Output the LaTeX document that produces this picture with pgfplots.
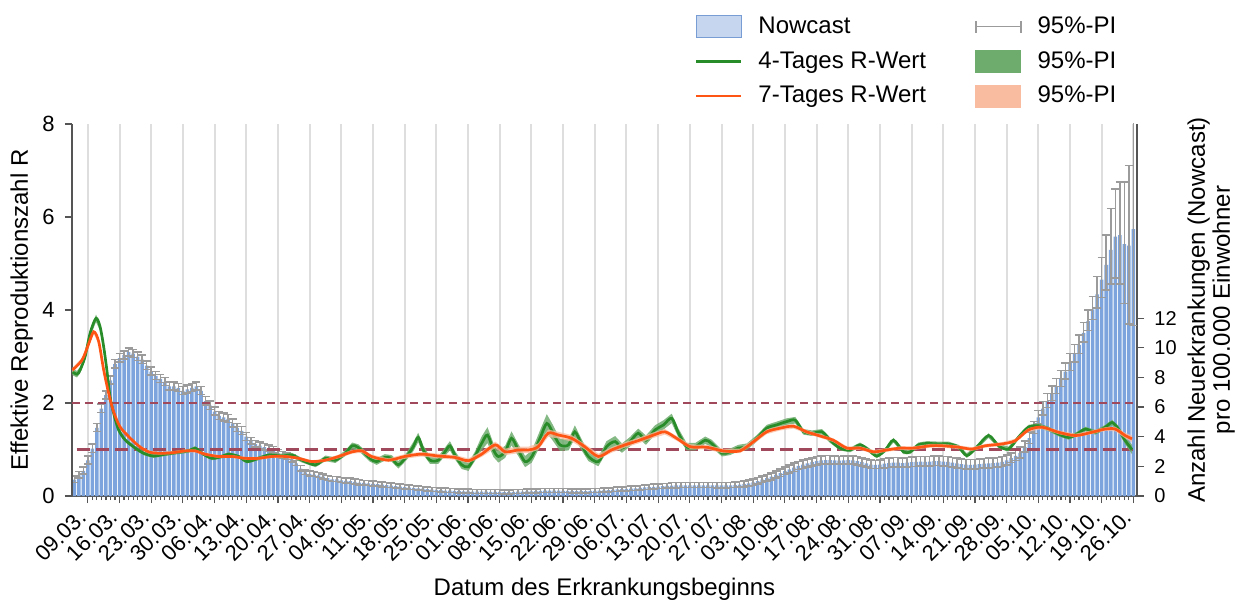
\documentclass[border=0pt]{standalone}
\usepackage{fontspec}
\setmainfont{Liberation Sans}
\usepackage{pgfplots}
\usepackage{pgfplotstable}
\pgfplotsset{compat=1.18}

\definecolor{barfill}{RGB}{126,164,222}
\definecolor{legfill}{RGB}{197,214,238}
\definecolor{legdraw}{RGB}{120,156,212}
\definecolor{errgray}{RGB}{155,155,155}
\definecolor{gline}{RGB}{40,140,40}
\definecolor{gband}{RGB}{110,172,110}
\definecolor{oline}{RGB}{255,85,20}
\definecolor{oband}{RGB}{250,188,160}
\definecolor{refred}{RGB}{160,72,92}
\definecolor{gridc}{RGB}{222,222,222}
\definecolor{axc}{RGB}{85,85,85}

\pgfplotstableread{
d v ep em
-3 1.1 0.25 0.2
-2 1.4 0.25 0.2
-1 1.7 0.25 0.2
0 2.4 0.3 0.25
1 3.2 0.3 0.25
2 4.6 0.3 0.25
3 5.9 0.3 0.25
4 6.8 0.3 0.25
5 7.8 0.3 0.25
6 8.9 0.3 0.25
7 9.3 0.3 0.25
8 9.5 0.3 0.25
9 9.7 0.3 0.25
10 9.6 0.3 0.25
11 9.4 0.3 0.25
12 9.2 0.3 0.25
13 8.8 0.3 0.25
14 8.4 0.3 0.25
15 8.1 0.3 0.25
16 7.9 0.3 0.25
17 7.7 0.3 0.25
18 7.4 0.3 0.25
19 7.4 0.3 0.25
20 7.3 0.3 0.25
21 7.1 0.3 0.25
22 7.2 0.3 0.25
23 7.3 0.3 0.25
24 7.4 0.3 0.25
25 7.1 0.3 0.25
26 6.4 0.3 0.25
27 6.1 0.3 0.25
28 5.7 0.3 0.25
29 5.4 0.3 0.25
30 5.3 0.3 0.25
31 5.2 0.3 0.25
32 4.9 0.3 0.25
33 4.6 0.3 0.25
34 4.4 0.3 0.25
35 4.0 0.3 0.25
36 3.7 0.25 0.2
37 3.5 0.25 0.2
38 3.4 0.25 0.2
39 3.3 0.25 0.2
40 3.2 0.25 0.2
41 3.1 0.25 0.2
42 2.9 0.25 0.2
43 2.75 0.25 0.2
44 2.65 0.25 0.2
45 2.5 0.25 0.2
46 2.2 0.2 0.15
47 1.85 0.2 0.15
48 1.6 0.2 0.15
49 1.5 0.2 0.15
50 1.45 0.2 0.15
51 1.4 0.2 0.15
52 1.3 0.2 0.15
53 1.2 0.2 0.15
54 1.12 0.2 0.15
55 1.12 0.2 0.15
56 1.05 0.2 0.15
57 1.02 0.2 0.15
58 1.0 0.2 0.15
59 0.95 0.2 0.15
60 0.9 0.2 0.15
61 0.88 0.18 0.14
62 0.85 0.18 0.14
63 0.82 0.18 0.14
64 0.8 0.18 0.14
65 0.76 0.18 0.14
66 0.73 0.18 0.14
67 0.7 0.18 0.14
68 0.67 0.18 0.14
69 0.64 0.18 0.14
70 0.6 0.18 0.14
71 0.57 0.16 0.12
72 0.55 0.16 0.12
73 0.52 0.16 0.12
74 0.49 0.16 0.12
75 0.46 0.16 0.12
76 0.43 0.16 0.12
77 0.41 0.16 0.12
78 0.39 0.16 0.12
79 0.37 0.16 0.12
80 0.36 0.16 0.12
81 0.34 0.15 0.12
82 0.33 0.15 0.12
83 0.32 0.15 0.12
84 0.31 0.15 0.12
85 0.3 0.15 0.12
86 0.3 0.15 0.12
87 0.29 0.15 0.12
88 0.29 0.15 0.12
89 0.28 0.15 0.12
90 0.28 0.15 0.12
91 0.28 0.15 0.12
92 0.27 0.15 0.12
93 0.27 0.15 0.12
94 0.28 0.15 0.12
95 0.29 0.15 0.12
96 0.3 0.15 0.12
97 0.31 0.15 0.12
98 0.32 0.15 0.12
99 0.33 0.15 0.12
100 0.35 0.15 0.12
101 0.36 0.15 0.12
102 0.37 0.15 0.12
103 0.37 0.15 0.12
104 0.36 0.15 0.12
105 0.35 0.15 0.12
106 0.34 0.15 0.12
107 0.33 0.15 0.12
108 0.33 0.15 0.12
109 0.33 0.15 0.12
110 0.33 0.15 0.12
111 0.34 0.15 0.12
112 0.35 0.15 0.12
113 0.36 0.15 0.12
114 0.38 0.15 0.12
115 0.4 0.15 0.12
116 0.42 0.16 0.13
117 0.44 0.16 0.13
118 0.46 0.16 0.13
119 0.48 0.16 0.13
120 0.5 0.16 0.13
121 0.52 0.17 0.14
122 0.55 0.17 0.14
123 0.58 0.17 0.14
124 0.6 0.18 0.15
125 0.62 0.18 0.15
126 0.64 0.18 0.15
127 0.66 0.18 0.15
128 0.68 0.18 0.15
129 0.7 0.2 0.16
130 0.71 0.2 0.16
131 0.72 0.2 0.16
132 0.72 0.2 0.16
133 0.72 0.2 0.16
134 0.72 0.2 0.16
135 0.72 0.2 0.16
136 0.72 0.2 0.16
137 0.72 0.2 0.16
138 0.72 0.2 0.16
139 0.71 0.2 0.16
140 0.71 0.2 0.16
141 0.71 0.2 0.16
142 0.72 0.2 0.16
143 0.74 0.2 0.16
144 0.77 0.2 0.16
145 0.8 0.22 0.18
146 0.85 0.22 0.18
147 0.92 0.24 0.2
148 1.0 0.24 0.2
149 1.1 0.25 0.2
150 1.2 0.25 0.2
151 1.3 0.26 0.22
152 1.42 0.26 0.22
153 1.55 0.28 0.24
154 1.68 0.28 0.24
155 1.8 0.3 0.25
156 1.92 0.3 0.25
157 2.03 0.3 0.25
158 2.12 0.3 0.25
159 2.2 0.3 0.25
160 2.28 0.3 0.25
161 2.35 0.3 0.25
162 2.4 0.3 0.25
163 2.42 0.3 0.25
164 2.42 0.3 0.25
165 2.4 0.3 0.25
166 2.38 0.3 0.25
167 2.4 0.3 0.25
168 2.42 0.3 0.25
169 2.4 0.3 0.25
170 2.35 0.3 0.25
171 2.28 0.3 0.25
172 2.2 0.3 0.25
173 2.12 0.3 0.25
174 2.1 0.3 0.25
175 2.12 0.3 0.25
176 2.18 0.35 0.3
177 2.22 0.35 0.3
178 2.25 0.35 0.3
179 2.25 0.35 0.3
180 2.22 0.35 0.3
181 2.25 0.35 0.3
182 2.28 0.35 0.3
183 2.3 0.35 0.3
184 2.32 0.35 0.3
185 2.3 0.35 0.3
186 2.32 0.35 0.3
187 2.35 0.35 0.3
188 2.35 0.35 0.3
189 2.32 0.35 0.3
190 2.3 0.35 0.3
191 2.25 0.35 0.3
192 2.2 0.35 0.3
193 2.15 0.35 0.3
194 2.12 0.35 0.3
195 2.1 0.35 0.3
196 2.12 0.35 0.3
197 2.15 0.35 0.3
198 2.18 0.35 0.3
199 2.2 0.35 0.3
200 2.22 0.35 0.3
201 2.25 0.35 0.3
202 2.3 0.35 0.3
203 2.4 0.35 0.3
204 2.55 0.35 0.3
205 2.7 0.38 0.32
206 2.9 0.4 0.34
207 3.3 0.4 0.34
208 3.9 0.42 0.36
209 4.6 0.44 0.38
210 5.3 0.46 0.4
211 5.9 0.48 0.42
212 6.4 0.5 0.44
213 6.9 0.52 0.46
214 7.4 0.54 0.48
215 7.9 0.56 0.5
216 8.4 0.58 0.52
217 9.0 0.6 0.54
218 9.6 0.62 0.56
219 10.2 0.66 0.58
220 11.0 0.7 0.6
221 11.8 0.75 0.62
222 12.6 0.85 0.7
223 13.6 1.2 0.9
224 14.6 1.5 1.2
225 15.6 2.0 1.7
226 16.6 2.8 2.3
227 17.5 3.2 2.8
228 17.6 3.6 3.3
229 17.0 4.2 4.0
230 16.9 5.4 5.3
231 18.0 8.0 6.5
}\bars

\pgfplotstableread{
d r w
-3.4 2.67 0.07
-2.4 2.62 0.07
-1.7 2.71 0.07
-0.6 3.0 0.07
0.5 3.5 0.08
1.8 3.82 0.08
2.7 3.64 0.08
3.5 3.21 0.07
4.2 2.71 0.07
4.9 2.14 0.06
5.7 1.78 0.05
6.8 1.42 0.05
8.3 1.2 0.04
10.5 1.03 0.04
12.3 0.92 0.04
14.5 0.86 0.04
17.1 0.9 0.04
20 0.94 0.04
22.3 0.97 0.04
23.7 1.03 0.04
25.2 0.92 0.04
27.4 0.81 0.04
29.6 0.85 0.04
31.1 0.9 0.04
33.3 0.85 0.04
35.2 0.74 0.04
37.7 0.81 0.04
40 0.88 0.04
42.9 0.86 0.05
45.1 0.88 0.05
47.3 0.77 0.05
50.3 0.67 0.05
52.5 0.81 0.06
54.7 0.77 0.06
56.9 0.92 0.06
58.4 1.08 0.07
59.8 1.04 0.07
62.3 0.81 0.07
63.8 0.74 0.07
65.6 0.83 0.07
67.1 0.81 0.07
68.6 0.67 0.08
70.4 0.85 0.08
71.9 1.06 0.1
73 1.26 0.1
74.1 0.99 0.1
75.6 0.77 0.08
77.4 0.77 0.08
78.9 0.95 0.09
80 1.08 0.1
81.1 0.88 0.09
82.6 0.67 0.09
84.1 0.63 0.09
85.5 0.85 0.1
87 1.13 0.15
88.3 1.31 0.17
89.6 0.99 0.15
90.7 0.85 0.13
92.2 0.95 0.13
93.6 1.24 0.15
95.1 0.99 0.13
96.6 0.74 0.12
98.1 0.85 0.13
99.9 1.24 0.17
101.4 1.56 0.2
102.8 1.35 0.17
104.3 1.1 0.13
106.2 1.1 0.12
107.6 1.38 0.14
109.1 1.1 0.12
110.6 0.85 0.1
112.8 0.74 0.1
114.6 1.06 0.12
116.5 1.17 0.12
118 1.03 0.1
119.8 1.17 0.1
121.6 1.35 0.1
123.3 1.2 0.1
125.3 1.42 0.1
127.2 1.53 0.1
129 1.67 0.1
130.5 1.35 0.1
132.3 1.06 0.08
134.2 1.06 0.08
136.4 1.2 0.08
137.8 1.13 0.08
140.1 0.92 0.07
141.9 0.95 0.07
143.7 1.03 0.07
145.6 1.06 0.07
147.8 1.24 0.07
150 1.46 0.07
152.2 1.53 0.07
154.4 1.6 0.07
156.3 1.63 0.07
158.1 1.38 0.06
160 1.35 0.06
162.2 1.38 0.06
164 1.2 0.06
166.2 1.03 0.05
168.4 0.99 0.05
170.6 1.1 0.05
172.5 0.99 0.05
174.3 0.86 0.05
176.2 0.99 0.05
178 1.2 0.05
180.2 0.95 0.05
181.7 0.95 0.05
183.5 1.1 0.05
185.4 1.13 0.05
188 1.12 0.05
190.2 1.12 0.05
192.4 1.05 0.05
194.2 0.87 0.05
196.4 1.05 0.05
199 1.3 0.05
201.2 1.08 0.05
203.4 1.01 0.05
205.6 1.26 0.05
207.8 1.48 0.05
210.1 1.51 0.05
212.3 1.44 0.05
214.5 1.33 0.05
216.7 1.26 0.05
218.5 1.33 0.05
220.4 1.44 0.05
222.6 1.37 0.05
224.8 1.48 0.05
226.3 1.58 0.06
227.7 1.44 0.07
229.2 1.19 0.08
230.7 1.0 0.1
}\green

\pgfplotstableread{
d r w
-3.4 2.71 0.05
-1.3 2.92 0.05
0.1 3.25 0.05
1.3 3.53 0.05
2.4 3.32 0.05
3.5 2.71 0.05
4.6 2.21 0.04
5.7 1.81 0.04
7.1 1.49 0.03
9 1.28 0.03
11.2 1.08 0.03
13.4 0.95 0.03
15.6 0.92 0.03
18.6 0.93 0.03
21.5 0.97 0.03
23.7 0.97 0.03
25.9 0.9 0.03
28.9 0.85 0.03
31.8 0.85 0.03
34.8 0.81 0.03
37.7 0.81 0.03
40.7 0.85 0.03
43.6 0.85 0.03
46.6 0.81 0.03
49.5 0.74 0.03
52.5 0.77 0.03
55.4 0.85 0.04
58.4 0.95 0.04
60.6 0.97 0.04
62.7 0.85 0.04
66.4 0.77 0.04
70 0.85 0.05
73.7 0.9 0.05
77.4 0.86 0.05
81.1 0.83 0.05
84.1 0.76 0.05
87 0.9 0.06
90 1.1 0.07
92.2 0.95 0.07
95.1 0.99 0.07
97.3 0.99 0.07
99.5 1.06 0.07
101.7 1.35 0.08
104 1.31 0.07
106.9 1.24 0.07
109.8 1.06 0.06
112.8 0.85 0.06
115.7 0.99 0.06
118.7 1.1 0.06
121.6 1.19 0.06
125 1.31 0.06
127.5 1.38 0.06
130.1 1.24 0.05
133.1 1.06 0.05
136.7 1.05 0.05
140.4 0.97 0.05
144.1 0.97 0.05
147.1 1.17 0.05
150 1.38 0.05
153 1.46 0.05
155.9 1.5 0.05
158.8 1.38 0.04
161.8 1.29 0.04
164.7 1.2 0.04
167.7 1.03 0.04
170.6 1.03 0.04
173.6 0.95 0.04
176.5 0.99 0.04
179.5 1.03 0.04
182.4 1.03 0.04
186.1 1.08 0.04
188.7 1.08 0.04
192.4 1.05 0.04
195.3 1.01 0.04
198.3 1.08 0.04
202 1.12 0.04
204.9 1.19 0.04
207.8 1.42 0.04
210.8 1.48 0.04
214.5 1.37 0.04
218.2 1.3 0.04
221.8 1.37 0.04
224.8 1.44 0.04
227 1.44 0.05
229.2 1.3 0.06
230.7 1.23 0.07
}\orange

% band polygons: upper edge forward, lower edge backward
\pgfplotstablesort[sort key=d, sort cmp=float <]{\gpoly}{\green}
\pgfplotstablecreatecol[create col/expr={\thisrow{r}+\thisrow{w}}]{b}{\gpoly}
\pgfplotstablesort[sort key=d, sort cmp=float >]{\glow}{\green}
\pgfplotstablecreatecol[create col/expr={\thisrow{r}-\thisrow{w}}]{b}{\glow}
\pgfplotstablevertcat{\gpoly}{\glow}

\pgfplotstablesort[sort key=d, sort cmp=float <]{\opoly}{\orange}
\pgfplotstablecreatecol[create col/expr={\thisrow{r}+\thisrow{w}}]{b}{\opoly}
\pgfplotstablesort[sort key=d, sort cmp=float >]{\olow}{\orange}
\pgfplotstablecreatecol[create col/expr={\thisrow{r}-\thisrow{w}}]{b}{\olow}
\pgfplotstablevertcat{\opoly}{\olow}

\begin{document}
\begin{tikzpicture}
\path (0,0) rectangle (620.5pt,300.5pt);
% ---------- incidence (right axis) with bars ----------
\begin{axis}[
  at={(36pt,52.5pt)}, anchor=south west,
  scale only axis, width=532.5pt, height=186pt,
  xmin=-3.5, xmax=231.8, ymin=0, ymax=25.1,
  axis x line*=bottom, axis y line*=right,
  axis line style={axc, line width=0.8pt},
  xtick={0,7,...,231},
  xticklabels={09.03.,16.03.,23.03.,30.03.,06.04.,13.04.,20.04.,27.04.,04.05.,11.05.,18.05.,25.05.,01.06.,08.06.,15.06.,22.06.,29.06.,06.07.,13.07.,20.07.,27.07.,03.08.,10.08.,17.08.,24.08.,31.08.,07.09.,14.09.,21.09.,28.09.,05.10.,12.10.,19.10.,26.10.},
  minor x tick num=6,
  xmajorgrids, major grid style={gridc, line width=1pt},
  ytick={0,2,...,12},
  tick align=outside,
  major tick length=3.5pt, minor tick length=2pt,
  every tick/.style={axc, line width=0.6pt},
  /pgf/number format/assume math mode=true,
  xticklabel style={yshift=-4.5pt, xshift=-2pt, rotate=45, anchor=east, inner sep=1pt, font=\fontsize{11}{13}\selectfont},
  yticklabel style={inner sep=2pt, xshift=3pt, font=\fontsize{10}{12}\selectfont},
  every axis x label/.style={at={(axis description cs:0.5,0)}, anchor=north, yshift=-37.5pt, font=\fontsize{12}{14}\selectfont},
  xlabel={Datum des Erkrankungsbeginns},
  every axis y label/.style={at={(axis description cs:1,0.5)}, xshift=24pt, rotate=90, anchor=north, align=center, inner sep=1pt, font=\fontsize{12}{12.5}\selectfont},
  ylabel={Anzahl Neuerkrankungen (Nowcast)\\pro 100.000 Einwohner},
]
\addplot[ybar, bar width=0.78, fill=barfill, draw=none,
  error bars/.cd, y dir=both, y explicit,
  error bar style={errgray, line width=0.75pt},
  error mark options={errgray, rotate=90, mark size=2pt, line width=0.75pt}]
  table[x=d, y=v, y error plus=ep, y error minus=em] {\bars};
\end{axis}
% ---------- R (left axis) ----------
\begin{axis}[
  at={(36pt,52.5pt)}, anchor=south west,
  scale only axis, width=532.5pt, height=186pt,
  xmin=-3.5, xmax=231.8, ymin=0, ymax=8,
  hide x axis, axis y line*=left,
  axis line style={axc, line width=0.8pt},
  ytick={0,2,4,6,8},
  tick align=outside, major tick length=3.5pt,
  every tick/.style={axc, line width=0.6pt},
  /pgf/number format/assume math mode=true,
  yticklabel style={inner sep=2pt, xshift=-3pt, font=\fontsize{11}{13}\selectfont},
  every axis y label/.style={at={(axis description cs:0,0.5)}, xshift=-16pt, rotate=90, anchor=south, font=\fontsize{12}{14}\selectfont},
  ylabel={Effektive Reproduktionszahl R},
  legend columns=2,
  legend cell align=left,
  legend style={at={(axis description cs:0.579,1.311)}, anchor=north west, draw=none, fill=none,
    font=\fontsize{12}{14}\selectfont,
    row sep=3.5pt,
    /tikz/every odd column/.append style={column sep=6pt},
    /tikz/every even column/.append style={column sep=22.5pt}},
]
\addplot[refred, line width=1.2pt, dash pattern=on 4pt off 2.5pt, forget plot] coordinates {(-3.5,2) (231.8,2)};
\addplot[refred, line width=1.4pt, dash pattern=on 6.5pt off 3pt, forget plot] coordinates {(-2.5,1) (231,1)};

\addplot[fill=gband, draw=none, fill opacity=0.85, forget plot] table[x=d, y=b] {\gpoly};
\addplot[gline, line width=1.35pt, smooth, forget plot] table[x=d, y=r] {\green};
\addplot[fill=oband, draw=none, fill opacity=0.75, forget plot] table[x=d, y=b] {\opoly};
\addplot[oline, line width=1.35pt, smooth, forget plot] table[x=d, y=r] {\orange};

\addlegendimage{legend image code/.code={\draw[fill=legfill, draw=legdraw, line width=0.6pt] (0pt,-5.5pt) rectangle (22.5pt,5.5pt);}}
\addlegendentry{Nowcast}
\addlegendimage{legend image code/.code={\draw[errgray, line width=0.8pt] (0pt,0pt) -- (22.5pt,0pt) (0pt,-3pt) -- (0pt,3pt) (22.5pt,-3pt) -- (22.5pt,3pt);}}
\addlegendentry{95\%-PI}
\addlegendimage{legend image code/.code={\draw[gline, line width=1.2pt] (0pt,0pt) -- (22.5pt,0pt);}}
\addlegendentry{4-Tages R-Wert}
\addlegendimage{legend image code/.code={\fill[gband] (0pt,-5.5pt) rectangle (22.5pt,5.5pt);}}
\addlegendentry{95\%-PI}
\addlegendimage{legend image code/.code={\draw[oline, line width=1.2pt] (0pt,0pt) -- (22.5pt,0pt);}}
\addlegendentry{7-Tages R-Wert}
\addlegendimage{legend image code/.code={\fill[oband] (0pt,-5.5pt) rectangle (22.5pt,5.5pt);}}
\addlegendentry{95\%-PI}
\end{axis}
\end{tikzpicture}
\end{document}
